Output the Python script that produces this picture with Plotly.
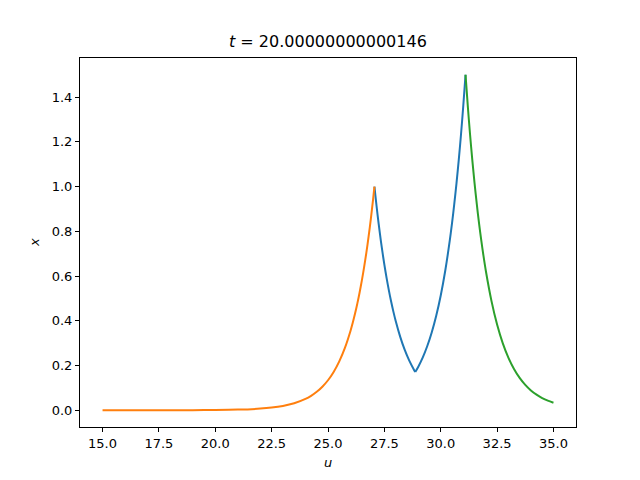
import plotly.graph_objects as go

# left flank (orange)
u_left = [15.0, 16.0, 17.0, 18.0, 19.0, 20.0, 21.0, 22.0, 22.5, 23.0, 23.5, 24.0,
          24.25, 24.5, 24.75, 25.0, 25.25, 25.5, 25.75, 26.0, 26.1, 26.2, 26.3,
          26.4, 26.5, 26.6, 26.7, 26.8, 26.9, 27.0, 27.06]
x_left = [0.0, 0.00002, 0.00006, 0.00015, 0.0004, 0.001, 0.0027, 0.0072, 0.0117,
          0.0191, 0.0311, 0.0507, 0.0646, 0.0824, 0.1052, 0.134, 0.1712, 0.2185,
          0.2788, 0.3557, 0.392, 0.4323, 0.4766, 0.5255, 0.5793, 0.6386, 0.704,
          0.7761, 0.8556, 0.9432, 1.0]

# blue piece, falling from the first peak to the dip
u_dip_down = [27.06, 27.1, 27.2, 27.3, 27.4, 27.5, 27.6, 27.7, 27.8, 27.9, 28.0,
              28.2, 28.4, 28.6, 28.8, 28.87]
x_dip_down = [1.0, 0.9617, 0.8724, 0.7914, 0.7178, 0.651, 0.5907, 0.5358, 0.486,
              0.4409, 0.4, 0.3291, 0.2708, 0.2228, 0.1833, 0.1712]

# blue piece, rising from the dip to the second peak
u_dip_up = [28.87, 29.0, 29.2, 29.4, 29.6, 29.8, 30.0, 30.2, 30.4, 30.5, 30.6,
            30.7, 30.8, 30.9, 31.0, 31.1]
x_dip_up = [0.1712, 0.1936, 0.2352, 0.286, 0.3476, 0.4223, 0.5131, 0.6237, 0.7581,
            0.8357, 0.9213, 1.0157, 1.1196, 1.234, 1.3607, 1.5]

# right flank (green)
u_right = [31.1, 31.2, 31.3, 31.4, 31.5, 31.6, 31.7, 31.8, 31.9, 32.0, 32.25,
           32.5, 32.75, 33.0, 33.25, 33.5, 33.75, 34.0, 34.25, 34.5, 34.75, 35.0]
x_right = [1.5, 1.3607, 1.234, 1.1196, 1.0157, 0.9213, 0.8357, 0.7581, 0.6877,
           0.6237, 0.489, 0.383, 0.3, 0.235, 0.1844, 0.1445, 0.1133, 0.0887,
           0.0696, 0.0545, 0.0427, 0.0335]

x_ticks = [15.0, 17.5, 20.0, 22.5, 25.0, 27.5, 30.0, 32.5, 35.0]
y_ticks = [0.0, 0.2, 0.4, 0.6, 0.8, 1.0, 1.2, 1.4]

FONT = "DejaVu Sans"

fig = go.Figure()
for uu, xx, color in [
    (u_dip_down, x_dip_down, "#1f77b4"),
    (u_dip_up, x_dip_up, "#1f77b4"),
    (u_left, x_left, "#ff7f0e"),
    (u_right, x_right, "#2ca02c"),
]:
    fig.add_trace(go.Scatter(x=uu, y=xx, mode="lines",
                             line={"color": color, "width": 2, "shape": "spline",
                                   "smoothing": 0.8},
                             showlegend=False))

axis_style = dict(
    showline=True, linecolor="black", linewidth=1, mirror=True,
    ticks="outside", ticklen=4, tickwidth=1, tickcolor="black",
    showgrid=False, zeroline=False,
    tickfont={"family": FONT, "size": 13, "color": "black"},
)
fig.update_xaxes(range=[14, 36], tickvals=x_ticks,
                 ticktext=[f"{v:.1f}" for v in x_ticks], **axis_style)
fig.update_yaxes(range=[-0.075, 1.575], tickvals=y_ticks,
                 ticktext=[f"{v:.1f}" for v in y_ticks], **axis_style)

fig.add_annotation(text="<i>t</i> = 20.00000000000146", xref="paper", yref="paper",
                   x=0.5, y=1, yanchor="bottom", yshift=5, showarrow=False,
                   font={"family": FONT, "size": 16, "color": "black"})
fig.add_annotation(text="<i>u</i>", xref="paper", yref="paper", x=0.5, y=0,
                   yanchor="top", yshift=-26, showarrow=False,
                   font={"family": FONT, "size": 13, "color": "black"})
fig.add_annotation(text="<i>x</i>", xref="paper", yref="paper", x=0, y=0.5,
                   xanchor="right", xshift=-36, textangle=-90, showarrow=False,
                   font={"family": FONT, "size": 13, "color": "black"})

# page body adds an 8px offset, so margins are trimmed on the top/left
fig.update_layout(
    width=640, height=480,
    margin={"l": 72, "r": 72, "t": 50, "b": 61},
    plot_bgcolor="white", paper_bgcolor="white",
)
fig.write_html("out.html")
